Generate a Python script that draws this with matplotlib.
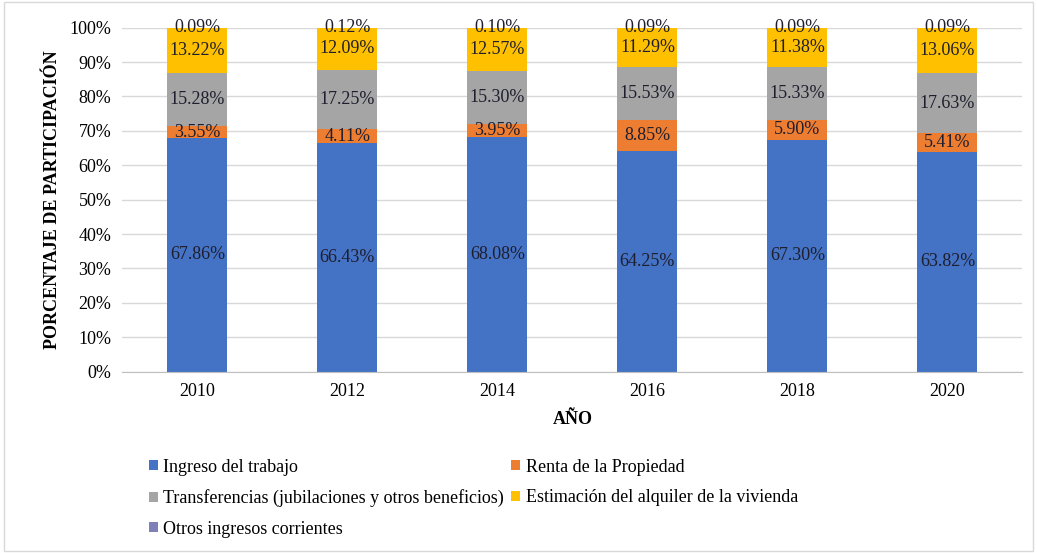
import matplotlib.pyplot as plt
import numpy as np
from matplotlib.ticker import PercentFormatter
from matplotlib.patches import Rectangle

plt.rcParams['font.family'] = ['Liberation Serif', 'DejaVu Serif']

years = ["2010", "2012", "2014", "2016", "2018", "2020"]
labels = ["Ingreso del trabajo", "Renta de la Propiedad",
          "Transferencias (jubilaciones y otros beneficios)",
          "Estimación del alquiler de la vivienda",
          "Otros ingresos corrientes"]
trabajo = [67.86, 66.43, 68.08, 64.25, 67.30, 63.82]
renta = [3.55, 4.11, 3.95, 8.85, 5.90, 5.41]
transf = [15.28, 17.25, 15.30, 15.53, 15.33, 17.63]
alquiler = [13.22, 12.09, 12.57, 11.29, 11.38, 13.06]
otros = [0.09, 0.12, 0.10, 0.09, 0.09, 0.09]
colors = ["#4472C4", "#ED7D31", "#A5A5A5", "#FFC000", "#8080B8"]

fig = plt.figure(figsize=(10.37, 5.53), dpi=100)
ax = fig.add_axes([0.118, 0.328, 0.868, 0.622])

x = np.arange(len(years))
bottom = np.zeros(len(years))
handles = []
for vals, lab, col in zip([trabajo, renta, transf, alquiler, otros], labels, colors):
    v = np.array(vals) / 100
    h = ax.bar(x, v, 0.4, bottom=bottom, color=col, label=lab)
    handles.append(h)
    for xi, b, vi in zip(x, bottom, v):
        ax.text(xi, b + vi / 2, f"{vi*100:.2f}%", ha="center", va="center",
                fontsize=13, color="#1E1E2E")
    bottom += v

ax.set_ylim(0, 1)
ax.set_xlim(-0.5, len(years) - 0.5)
ax.set_yticks(np.arange(0, 1.01, 0.1))
ax.yaxis.set_major_formatter(PercentFormatter(1, decimals=0))
ax.set_xticks(x, years)
ax.tick_params(length=0, labelsize=13, pad=8)
ax.grid(axis="y", color="#D9D9D9", lw=1)
ax.set_axisbelow(True)
for s in ["top", "right", "left"]:
    ax.spines[s].set_visible(False)
ax.spines["bottom"].set_color("#BFBFBF")
ax.set_xlabel("AÑO", fontweight="bold", fontsize=13, labelpad=8)
ax.set_ylabel("PORCENTAJE DE PARTICIPACIÓN", fontweight="bold", fontsize=13, labelpad=6)

# row-wise order like the original
order = [0, 2, 4, 1, 3]
fig.legend([handles[i] for i in order], [labels[i] for i in order],
           loc="upper left", bbox_to_anchor=(0.128, 0.2), ncol=2, frameon=False,
           fontsize=13, handlelength=0.5, handleheight=0.5, handletextpad=0.3,
           columnspacing=0.4, labelspacing=0.75)

fig.patches.append(Rectangle((0.004, 0.004), 0.992, 0.992, transform=fig.transFigure,
                             fill=False, edgecolor="#D9D9D9", lw=1))
fig.savefig("out.png", dpi=100)
